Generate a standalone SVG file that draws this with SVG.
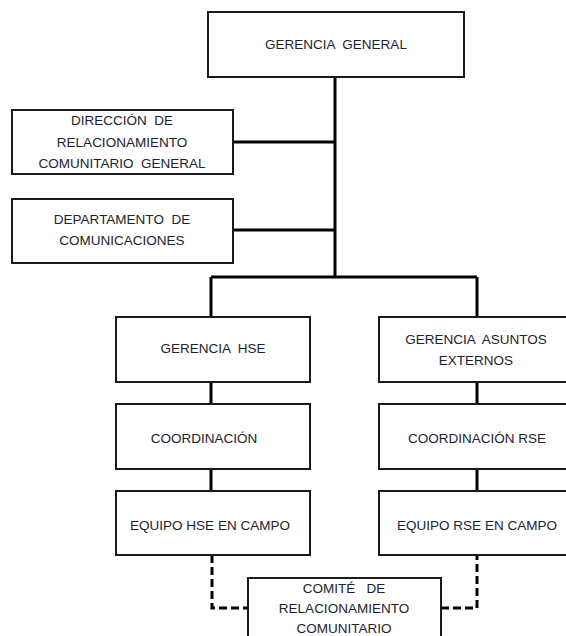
<svg xmlns="http://www.w3.org/2000/svg" width="566" height="636" viewBox="0 0 566 636">
<style>
.box{fill:#fff;stroke:#1a1a1a;stroke-width:2}
.t{font-family:"Liberation Sans",Arial,sans-serif;font-size:13.5px;fill:#1c2330;text-anchor:middle;white-space:pre}
.c{fill:none;stroke:#000;stroke-width:3}
.d{fill:none;stroke:#000;stroke-width:3;stroke-dasharray:8 4}
</style>
<rect width="566" height="636" fill="#fff"/>
<g id="connectors">
<path class="c" d="M335 77V277M233 142H335M233 230H335M211 277H477M211 277V317M477 277V317M211 382V404M211 469V491M477 382V404M477 469V491"/>
<path class="d" d="M212 555V608H248M441 608H477V555"/>
</g>
<g id="gerencia-general"><rect class="box" x="208" y="12" width="256" height="65"/><text class="t" x="336" y="49" xml:space="preserve">GERENCIA  GENERAL</text></g>
<g id="direccion"><rect class="box" x="12" y="110" width="221" height="64"/><text class="t" x="122" y="125" xml:space="preserve">DIRECCIÓN  DE</text><text class="t" x="122" y="147">RELACIONAMIENTO</text><text class="t" x="122" y="168" xml:space="preserve">COMUNITARIO  GENERAL</text></g>
<g id="departamento"><rect class="box" x="12" y="199" width="221" height="64"/><text class="t" x="122" y="224" xml:space="preserve">DEPARTAMENTO  DE</text><text class="t" x="122" y="245">COMUNICACIONES</text></g>
<g id="gerencia-hse"><rect class="box" x="116" y="317" width="194" height="65"/><text class="t" x="213" y="353" xml:space="preserve">GERENCIA  HSE</text></g>
<g id="gerencia-asuntos"><rect class="box" x="379" y="317" width="194" height="65"/><text class="t" x="476" y="344" xml:space="preserve">GERENCIA  ASUNTOS</text><text class="t" x="476" y="365">EXTERNOS</text></g>
<g id="coordinacion"><rect class="box" x="116" y="404" width="194" height="65"/><text class="t" x="204" y="443">COORDINACIÓN</text></g>
<g id="coordinacion-rse"><rect class="box" x="379" y="404" width="194" height="65"/><text class="t" x="477" y="443">COORDINACIÓN RSE</text></g>
<g id="equipo-hse"><rect class="box" x="116" y="491" width="194" height="64"/><text class="t" x="210" y="530">EQUIPO HSE EN CAMPO</text></g>
<g id="equipo-rse"><rect class="box" x="379" y="491" width="194" height="64"/><text class="t" x="477" y="530">EQUIPO RSE EN CAMPO</text></g>
<g id="comite"><rect class="box" x="248" y="578" width="193" height="70"/><text class="t" x="344" y="593" xml:space="preserve">COMITÉ   DE</text><text class="t" x="344" y="613">RELACIONAMIENTO</text><text class="t" x="344" y="633">COMUNITARIO</text></g>
</svg>
